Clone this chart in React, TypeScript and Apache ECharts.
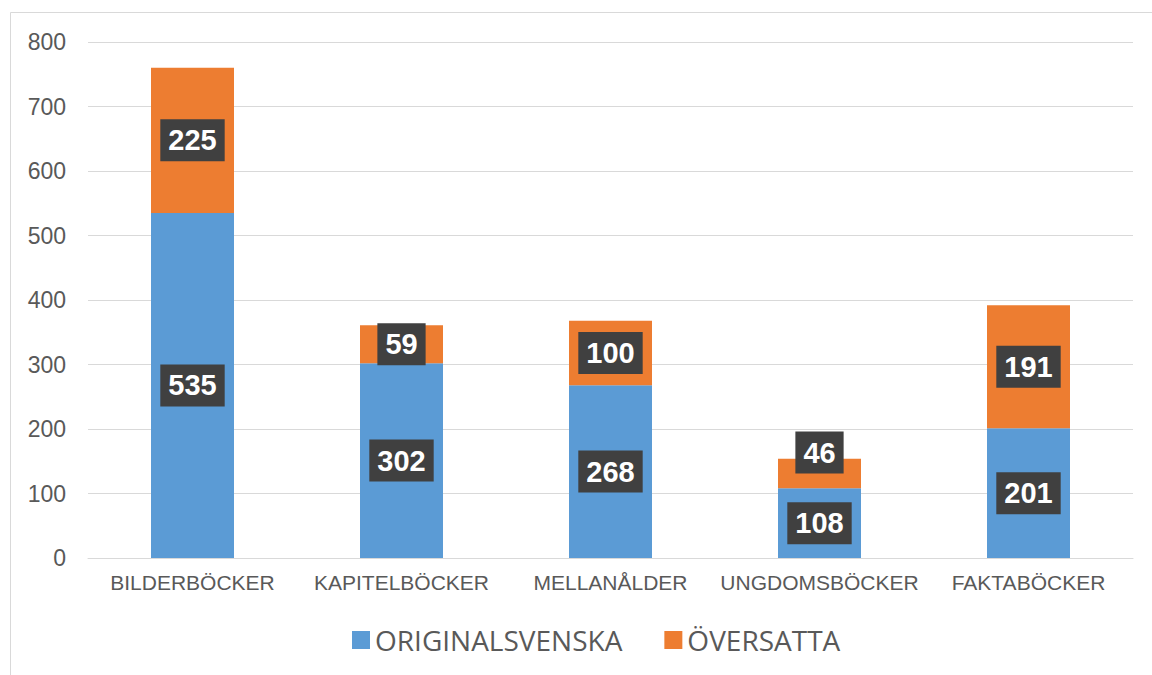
import React, { useEffect, useRef } from "react";
import * as echarts from "echarts";

const categories = ["BILDERBÖCKER", "KAPITELBÖCKER", "MELLANÅLDER", "UNGDOMSBÖCKER", "FAKTABÖCKER"];
const originalsvenska = [535, 302, 268, 108, 201];
const oversatta = [225, 59, 100, 46, 191];
const yTicks = [0, 100, 200, 300, 400, 500, 600, 700, 800];

export default function App() {
  const ref = useRef<HTMLDivElement>(null);
  useEffect(() => {
    if (!ref.current) return;
    const chart = echarts.init(ref.current, undefined, { renderer: "svg" });
    const labelStyle = {
      show: true,
      position: "inside",
      color: "#ffffff",
      fontFamily: "Liberation Sans, Arial, sans-serif",
      fontWeight: "bold",
      fontSize: 29,
      lineHeight: 30,
      backgroundColor: "#404040",
      padding: [6, 8, 6, 8],
    };
    // Excel nudged the small overlapping label upward
    const orangeData = oversatta.map((v, i) =>
      i === 3 ? { value: v, label: { offset: [0, -21] } } : v
    );
    chart.setOption({
      animation: false,
      graphic: [
        {
          type: "rect",
          shape: { x: 10.5, y: 12.5, width: 1300, height: 800 },
          style: { fill: "none", stroke: "#d9d9d9", lineWidth: 1 },
          silent: true,
        },
      ],
      grid: { left: 88, right: 19, top: 42, bottom: 117 },
      legend: {
        data: ["ORIGINALSVENSKA", "ÖVERSATTA"],
        top: 621,
        left: 347,
        itemWidth: 18,
        itemHeight: 18,
        itemGap: 42,
        icon: "rect",
        textStyle: {
          color: "#595959",
          fontSize: 28,
          fontFamily: "Open Sans, Noto Sans, sans-serif",
        },
      },
      xAxis: {
        type: "category",
        data: categories,
        axisLine: { lineStyle: { color: "#d9d9d9", width: 1 } },
        axisTick: { show: false },
        axisLabel: {
          interval: 0,
          color: "#595959",
          fontSize: 21,
          margin: 14,
          fontFamily: "Liberation Sans, Arial, sans-serif",
        },
      },
      yAxis: {
        type: "value",
        min: yTicks[0],
        max: yTicks[yTicks.length - 1],
        interval: 100,
        axisLine: { show: false },
        axisTick: { show: false },
        splitLine: { lineStyle: { color: "#d9d9d9", width: 1 } },
        axisLabel: {
          color: "#595959",
          fontSize: 23,
          margin: 22,
          fontFamily: "Liberation Sans, Arial, sans-serif",
        },
      },
      series: [
        {
          name: "ORIGINALSVENSKA",
          type: "bar",
          stack: "total",
          data: originalsvenska,
          barWidth: 83,
          itemStyle: { color: "#5B9BD5" },
          label: labelStyle,
        },
        {
          name: "ÖVERSATTA",
          type: "bar",
          stack: "total",
          data: orangeData,
          barWidth: 83,
          itemStyle: { color: "#ED7D31" },
          label: labelStyle,
        },
      ],
    });
    return () => chart.dispose();
  }, []);
  return (
    <div
      ref={ref}
      style={{ position: "fixed", left: 0, top: 0, width: 1152, height: 675, background: "#fff" }}
    />
  );
}
